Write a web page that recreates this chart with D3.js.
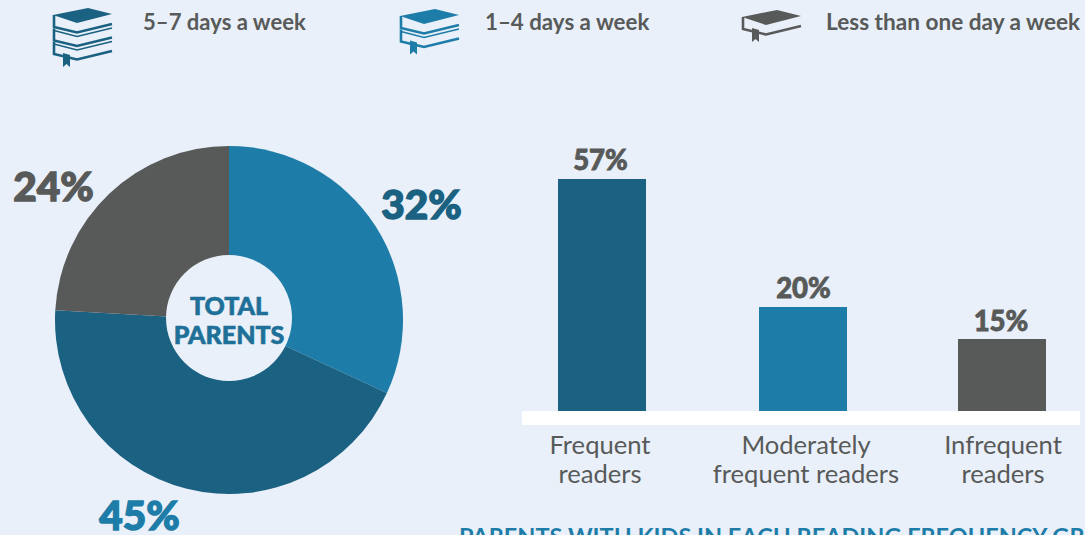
<!DOCTYPE html>
<html>
<head>
<meta charset="utf-8">
<script src="https://cdn.jsdelivr.net/npm/d3@7"></script>
<style>
  html, body { margin: 0; padding: 0; background: #e9f0f9; overflow: hidden; }
  svg { display: block; }
</style>
</head>
<body>
<script>
var pieLabels = ["32%", "45%", "24%"];
// slice shares as measured on the picture, they differ slightly from the printed labels
var pieValues = [31.9, 44, 24.1];
var pieColors = ["#1e7da8", "#1a6182", "#585a5a"];
var pieCenterLines = ["TOTAL", "PARENTS"];

var barCategories = ["Frequent readers", "Moderately frequent readers", "Infrequent readers"];
var barValues = [57, 20, 15];
var barColors = ["#1a6182", "#1e7da8", "#585a5a"];
var barLabelLines = [["Frequent", "readers"], ["Moderately", "frequent readers"], ["Infrequent", "readers"]];

var legendLabels = ["5\u20137 days a week", "1\u20134 days a week", "Less than one day a week"];
var legendColors = ["#1a6182", "#1e7da8", "#585a5a"];
var legendBooks = [3, 2, 1];

var bottomTitle = "PARENTS WITH KIDS IN EACH READING FREQUENCY GROUP";

var width = 1085;
var height = 535;
var background = "#e9f0f9";
var sansFont = "Lato, 'Open Sans', sans-serif";
var grey = "#585a5a";

var svg = d3.select("body")
  .append("svg")
  .attr("width", width)
  .attr("height", height);

// legend
var legendX = [53, 400, 742];
var legendY = [8, 9, 10];
var legendTextX = [143, 485, 826];
var legendFontSize = [22.1, 22.3, 22.6];

function drawBook(g, color, count) {
  var stack = 13.5;
  g.append("path")
    .attr("d", "M0 7 L35 0 L59 6 L24 15 Z")
    .attr("fill", color);
  for (var i = 0; i < count; i++) {
    var dy = i * stack;
    g.append("path")
      .attr("d", "M59 " + (16 + dy) + " L24 " + (24.5 + dy) + " L1 " + (19 + dy) + " L1 " + (7 + dy))
      .attr("fill", "none")
      .attr("stroke", color)
      .attr("stroke-width", 2.6);
    if (i < count - 1) {
      g.append("path")
        .attr("d", "M59 " + (20 + dy) + " L24 " + (28.5 + dy) + " L1 " + (22.5 + dy))
        .attr("fill", "none")
        .attr("stroke", color)
        .attr("stroke-width", 1.6);
    }
  }
  var by = (count - 1) * stack;
  g.append("path")
    .attr("d", "M10 " + (18 + by) + " L17 " + (20 + by) + " L17 " + (32 + by) + " L13.5 " + (29 + by) + " L10 " + (32 + by) + " Z")
    .attr("fill", color);
}

legendLabels.forEach(function (label, i) {
  var g = svg.append("g")
    .attr("transform", "translate(" + legendX[i] + "," + legendY[i] + ")");
  drawBook(g, legendColors[i], legendBooks[i]);

  svg.append("text")
    .attr("x", legendTextX[i])
    .attr("y", 29.5)
    .attr("font-family", sansFont)
    .attr("font-size", legendFontSize[i])
    .attr("font-weight", 700)
    .attr("fill", grey)
    .text(label);
});

// pie
var pieCx = 229;
var pieCy = 320;
var outerR = 174;
var holeR = 63;

var pie = d3.pie().sort(null)(pieValues);
var arc = d3.arc().innerRadius(0).outerRadius(outerR);

var pieGroup = svg.append("g")
  .attr("transform", "translate(" + pieCx + "," + pieCy + ")");

pieGroup.selectAll("path")
  .data(pie)
  .enter()
  .append("path")
  .attr("d", arc)
  .attr("fill", function (d, i) { return pieColors[i]; });

// the hole sits a little above the pie centre
pieGroup.append("circle")
  .attr("cx", 0)
  .attr("cy", -2)
  .attr("r", holeR)
  .attr("fill", background);

pieCenterLines.forEach(function (line, i) {
  pieGroup.append("text")
    .attr("x", 0)
    .attr("y", -5 + i * 29)
    .attr("text-anchor", "middle")
    .attr("font-family", sansFont)
    .attr("font-size", 25)
    .attr("font-weight", 900)
    .attr("fill", "#1e7098")
    .attr("stroke", "#1e7098")
    .attr("stroke-width", 0.6)
    .text(line);
});

var pieLabelPos = [[421.5, 219], [139.5, 529.5], [53.5, 201]];
var pieLabelColors = ["#1a6182", "#1e7da8", grey];
pieLabels.forEach(function (label, i) {
  svg.append("text")
    .attr("x", pieLabelPos[i][0])
    .attr("y", pieLabelPos[i][1])
    .attr("text-anchor", "middle")
    .attr("font-family", sansFont)
    .attr("font-size", 40.5)
    .attr("font-weight", 900)
    .attr("fill", pieLabelColors[i])
    .attr("stroke", pieLabelColors[i])
    .attr("stroke-width", 1.4)
    .text(label);
});

// bars
// bar heights in the picture are not proportional to their labels, so the scale goes through each one
var baseline = 411;
var xScale = d3.scaleOrdinal()
  .domain(barCategories)
  .range([602, 803, 1002]);

var yScale = d3.scaleLinear()
  .domain([0, 15, 20, 57])
  .range([baseline, 339, 307, 179]);

var barWidth = 88;

svg.append("rect")
  .attr("x", 522)
  .attr("y", baseline)
  .attr("width", 558)
  .attr("height", 14)
  .attr("fill", "#ffffff");

svg.selectAll(".bar")
  .data(barValues)
  .enter()
  .append("rect")
  .attr("class", "bar")
  .attr("x", function (d, i) { return xScale(barCategories[i]) - barWidth / 2; })
  .attr("y", function (d) { return yScale(d); })
  .attr("width", barWidth)
  .attr("height", function (d) { return baseline - yScale(d); })
  .attr("fill", function (d, i) { return barColors[i]; });

var valueNudge = [-1.5, 0.5, -1];
var valueGap = [9.5, 9.5, 8];
svg.selectAll(".bar-value")
  .data(barValues)
  .enter()
  .append("text")
  .attr("class", "bar-value")
  .attr("x", function (d, i) { return xScale(barCategories[i]) + valueNudge[i]; })
  .attr("y", function (d, i) { return yScale(d) - valueGap[i]; })
  .attr("text-anchor", "middle")
  .attr("font-family", sansFont)
  .attr("font-size", 27.5)
  .attr("font-weight", 900)
  .attr("fill", grey)
  .attr("stroke", grey)
  .attr("stroke-width", 0.8)
  .text(function (d) { return d + "%"; });

var labelNudge = [-2, 3, 1];
barLabelLines.forEach(function (lines, i) {
  lines.forEach(function (line, j) {
    svg.append("text")
      .attr("x", xScale(barCategories[i]) + labelNudge[i])
      .attr("y", 454 + j * 29)
      .attr("text-anchor", "middle")
      .attr("font-family", sansFont)
      .attr("font-size", 25.6)
      .attr("fill", grey)
      .text(line);
  });
});

// cut off by the bottom and right edges in the reference too
svg.append("text")
  .attr("x", 459)
  .attr("y", 545)
  .attr("font-family", sansFont)
  .attr("font-size", 23.5)
  .attr("font-weight", 700)
  .attr("fill", "#1e7da8")
  .text(bottomTitle);
</script>
</body>
</html>
